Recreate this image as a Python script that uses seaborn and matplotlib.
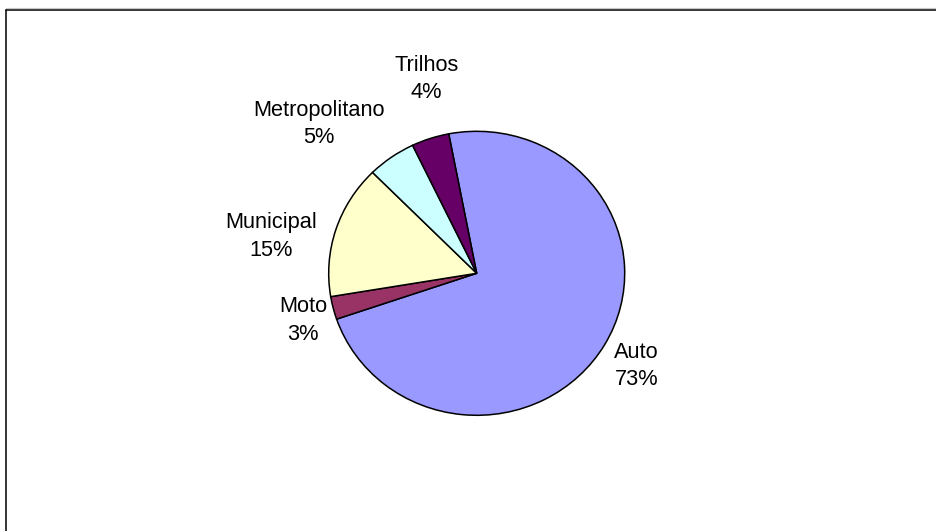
import matplotlib
matplotlib.use("Agg")
import matplotlib.pyplot as plt
from matplotlib.lines import Line2D
import seaborn as sns

# Modal split of trips
categories = ["Auto", "Moto", "Municipal", "Metropolitano", "Trilhos"]
shares = [72.8, 2.6, 15.2, 5.3, 4.1]
slice_colors = ["#9999FF", "#993366", "#FFFFCC", "#CCFFFF", "#660066"]

sns.set_theme(style="white")
plt.rcParams["font.family"] = ["Liberation Sans", "DejaVu Sans"]

W, H = 936, 531
fig = plt.figure(figsize=(W / 100, H / 100), dpi=100)
fig.patch.set_facecolor("white")

# chart-area frame (top and left edges)
fx0, fy0 = 6 / W, 1 - 10 / H
fig.add_artist(Line2D([fx0, 1.0], [fy0, fy0], color="black", lw=1.1,
                      transform=fig.transFigure))
fig.add_artist(Line2D([fx0, fx0], [fy0, 0.0], color="black", lw=1.1,
                      transform=fig.transFigure))
fig.add_artist(Line2D([fx0, 1.0], [fy0 + 2 / H, fy0 + 2 / H], color="#c8c8c8",
                      lw=0.8, transform=fig.transFigure))

# pie plot area (slightly wider than tall)
cx, cy, rx, ry = 476.7, 273.3, 148, 142
ax = fig.add_axes([(cx - rx) / W, (H - cy - ry) / H, 2 * rx / W, 2 * ry / H])
wedges, _ = ax.pie(
    shares,
    colors=slice_colors,
    startangle=100.9,
    counterclock=False,
    wedgeprops=dict(edgecolor="black", linewidth=1.1),
)
for w in wedges:
    w.set_clip_on(False)
ax.set_xlim(-1, 1)
ax.set_ylim(-1, 1)
ax.set_aspect("auto")
ax.axis("off")

# data labels: category name and rounded percentage
label_pos = [(1.081, -0.651), (-1.172, -0.331), (-1.39, 0.26),
             (-1.066, 1.051), (-0.338, 1.368)]
total = sum(shares)
for name, val, (lx, ly) in zip(categories, shares, label_pos):
    ax.text(lx, ly, f"{name}\n{round(val / total * 100):.0f}%",
            ha="center", va="center", multialignment="center",
            fontsize=15.7, linespacing=1.4, color="black", clip_on=False)

fig.savefig("out.png", dpi=100, facecolor="white")
